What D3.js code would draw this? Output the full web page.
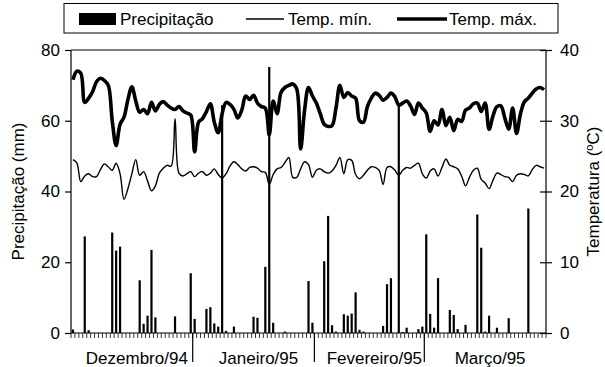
<!DOCTYPE html>
<html>
<head>
<meta charset="utf-8">
<script src="https://cdn.jsdelivr.net/npm/d3@7/dist/d3.min.js"></script>
<style>
  body { margin: 0; background: #fff; }
  text { font-family: 'Liberation Sans', Arial, sans-serif; fill: #000; }
</style>
</head>
<body>
<svg id="chart" width="605" height="367"></svg>
<script>
// months shown on the x axis
const months = ['Dezembro/94', 'Janeiro/95', 'Fevereiro/95', 'Março/95'];
const monthDays = [31, 31, 28, 31];

// daily precipitation (mm), one array per month
const precipDez = [1.0, 0, 0, 27.3, 0.8, 0, 0, 0, 0, 0, 28.4, 23.3, 24.4, 0, 0, 0, 0, 14.9, 2.6, 4.9, 23.5, 4.4, 0, 0, 0, 0, 4.7, 0, 0, 0, 16.9];
const precipJan = [4.0, 0, 0, 6.8, 7.3, 2.7, 1.8, 64.4, 0.6, 0, 1.8, 0, 0, 0, 0, 4.6, 4.3, 0, 18.7, 75.2, 2.9, 0, 0, 0.4, 0, 0, 0, 0, 0, 14.7, 2.9];
const precipFev = [0, 0, 20.3, 33.1, 2.2, 0.4, 0, 5.3, 4.9, 5.5, 11.5, 0.9, 0.4, 0, 0, 0, 0, 2.0, 13.8, 15.5, 0, 64.4, 0.3, 1.5, 0, 0, 1.1, 1.8];
const precipMar = [27.9, 5.4, 1.5, 15.5, 0, 0, 6.5, 5.1, 1.1, 0, 2.3, 0, 0, 33.5, 24.1, 0.4, 4.9, 0, 1.5, 0, 0, 4.2, 0, 0, 0, 0, 35.2, 0, 0, 0, 0];

// daily max temperature (C)
const tMaxDez = [35.8, 37.0, 36.7, 32.6, 33.2, 34.1, 35.5, 36.0, 35.7, 35.0, 30.0, 26.5, 29.5, 30.5, 33.0, 34.8, 32.8, 31.2, 31.6, 31.0, 32.6, 31.4, 32.3, 32.7, 32.2, 31.8, 31.6, 32.0, 31.4, 31.1, 30.8];
const tMaxJan = [25.6, 29.8, 30.3, 31.3, 32.4, 29.8, 28.3, 31.0, 32.6, 32.3, 31.6, 30.4, 31.5, 33.5, 33.0, 33.6, 32.5, 32.0, 31.8, 28.0, 32.8, 31.0, 34.0, 34.7, 35.0, 35.2, 34.5, 26.0, 31.5, 34.7, 33.5];
const tMaxFev = [32.5, 31.0, 29.5, 29.2, 29.3, 31.8, 35.0, 33.3, 34.0, 33.5, 33.2, 30.0, 29.8, 32.0, 33.2, 33.9, 33.6, 32.9, 33.3, 33.9, 33.4, 32.2, 32.5, 32.8, 32.1, 30.9, 32.5, 31.8];
const tMaxMar = [31.1, 28.5, 30.0, 29.4, 31.6, 29.3, 30.5, 28.6, 30.2, 29.9, 31.5, 31.8, 32.4, 32.5, 31.3, 32.5, 28.8, 30.7, 32.0, 32.1, 30.4, 28.8, 31.8, 28.2, 31.0, 32.7, 33.2, 33.9, 34.5, 34.7, 34.4];

// daily min temperature (C)
const tMinDez = [24.5, 24.0, 21.4, 22.2, 22.5, 22.1, 22.1, 23.1, 23.9, 23.5, 23.0, 24.0, 22.5, 18.9, 20.4, 22.5, 24.5, 22.3, 22.8, 21.5, 20.1, 20.8, 22.6, 23.3, 23.7, 23.6, 30.3, 22.6, 22.2, 22.5, 22.8];
const tMinJan = [22.1, 22.6, 22.8, 22.3, 22.6, 23.2, 22.4, 21.9, 22.5, 23.6, 24.2, 23.8, 23.2, 22.9, 23.4, 23.5, 23.3, 22.8, 22.7, 21.0, 22.4, 23.2, 23.4, 24.1, 24.8, 22.0, 22.0, 23.2, 24.2, 23.8, 22.0];
const tMinFev = [23.0, 23.2, 22.8, 22.6, 22.9, 23.7, 24.8, 22.5, 24.5, 24.4, 22.4, 21.8, 22.3, 23.0, 23.5, 23.4, 23.0, 21.0, 23.4, 23.5, 23.0, 22.3, 23.0, 23.4, 23.3, 23.7, 24.0, 22.5];
const tMinMar = [21.9, 22.9, 23.2, 22.2, 23.4, 24.6, 23.7, 23.5, 23.2, 22.2, 20.8, 22.0, 23.0, 23.3, 21.7, 21.2, 20.4, 21.6, 22.6, 22.4, 22.1, 22.0, 21.4, 22.3, 22.5, 22.4, 22.2, 23.1, 23.7, 23.5, 23.3];

const precipTicks = [0, 20, 40, 60, 80];
const tempTicks = [0, 10, 20, 30, 40];

const precip = [].concat(precipDez, precipJan, precipFev, precipMar);
const tMax = [].concat(tMaxDez, tMaxJan, tMaxFev, tMaxMar);
const tMin = [].concat(tMinDez, tMinJan, tMinFev, tMinMar);
const days = d3.range(precip.length);

const svg = d3.select('#chart');
const pL = 71, pR = 546, pT = 50, pB = 333;

const x = d3.scaleBand().domain(days).range([pL, pR]).padding(0);
const yP = d3.scaleLinear().domain([0, 80]).range([pB, pT]);
const yT = d3.scaleLinear().domain([0, 40]).range([pB, pT]);
const cx = d => x(d) + x.bandwidth() / 2;

// frame top
svg.append('line').attr('x1', pL).attr('x2', pR).attr('y1', pT).attr('y2', pT)
  .attr('stroke', '#000').attr('stroke-width', 1);

// left axis
const axL = svg.append('g').attr('transform', `translate(${pL},0)`)
  .call(d3.axisLeft(yP).tickValues(precipTicks).tickSize(6).tickPadding(5).tickFormat(d3.format('d')));
axL.select('.domain').attr('d', `M0,${pT}V${pB}`);

// right axis (ticks cross the line)
const axR = svg.append('g').attr('transform', `translate(${pR},0)`)
  .call(d3.axisRight(yT).tickValues(tempTicks).tickSize(6).tickPadding(8).tickFormat(d3.format('d')));
axR.select('.domain').attr('d', `M0,${pT}V${pB}`);
axR.selectAll('.tick line').attr('x1', -6);

[axL, axR].forEach(a => {
  a.selectAll('text').style('font-size', '17px').attr('font-family', null);
  a.selectAll('line, path').attr('stroke', '#000').attr('stroke-width', 1.2);
});

// bottom axis: one small tick per day, long line between months
const xAxis = svg.append('g');
xAxis.append('line').attr('x1', pL).attr('x2', pR).attr('y1', pB).attr('y2', pB)
  .attr('stroke', '#000').attr('stroke-width', 1.2);
xAxis.selectAll('.day').data(d3.range(precip.length + 1)).join('line')
  .attr('class', 'day')
  .attr('x1', d => d < days.length ? x(d) : pR)
  .attr('x2', d => d < days.length ? x(d) : pR)
  .attr('y1', pB).attr('y2', pB + 5)
  .attr('stroke', '#000').attr('stroke-width', 0.8);

const starts = d3.cumsum([0].concat(monthDays)).slice(0, months.length);
xAxis.selectAll('.sep').data(starts.slice(1)).join('line')
  .attr('class', 'sep')
  .attr('x1', d => x(d)).attr('x2', d => x(d))
  .attr('y1', pB).attr('y2', 362)
  .attr('stroke', '#000').attr('stroke-width', 1.2);
xAxis.selectAll('.month').data(months).join('text')
  .attr('class', 'month')
  .attr('x', (m, i) => {
    const a = x(starts[i]);
    const b = i + 1 < months.length ? x(starts[i + 1]) : pR;
    return (a + b) / 2 + 5;
  })
  .attr('y', 364)
  .attr('text-anchor', 'middle')
  .style('font-size', '17px')
  .text(m => m);

// temperature lines
const lineT = d3.line().x((d, i) => cx(i)).y(d => yT(d)).curve(d3.curveCatmullRom.alpha(0.5));
svg.append('path').datum(tMin).attr('d', lineT)
  .attr('fill', 'none').attr('stroke', '#000').attr('stroke-width', 1.4);
svg.append('path').datum(tMax).attr('d', lineT)
  .attr('fill', 'none').attr('stroke', '#000').attr('stroke-width', 3.6)
  .attr('stroke-linejoin', 'round');

// precipitation bars
const barW = 2.2;
svg.selectAll('.bar').data(days.filter(d => precip[d] > 0)).join('rect')
  .attr('class', 'bar')
  .attr('x', d => cx(d) - barW / 2)
  .attr('width', barW)
  .attr('y', d => yP(precip[d]))
  .attr('height', d => pB - yP(precip[d]))
  .attr('fill', '#000');

// axis titles
svg.append('text')
  .attr('transform', `translate(24,${(pT + pB) / 2}) rotate(-90)`)
  .attr('text-anchor', 'middle')
  .style('font-size', '17px')
  .text('Precipitação (mm)');
const tt = svg.append('text')
  .attr('transform', `translate(599,${(pT + pB) / 2}) rotate(-90)`)
  .attr('text-anchor', 'middle')
  .style('font-size', '17px');
tt.append('tspan').text('Temperatura (');
tt.append('tspan').attr('dy', -6).style('font-size', '11px').text('o');
tt.append('tspan').attr('dy', 6).text('C)');

// legend
const lg = svg.append('g');
lg.append('rect').attr('x', 64).attr('y', 3.5).attr('width', 494).attr('height', 29.5)
  .attr('fill', '#fff').attr('stroke', '#000').attr('stroke-width', 1);
lg.append('rect').attr('x', 79).attr('y', 13).attr('width', 37).attr('height', 12).attr('fill', '#000');
lg.append('text').attr('x', 120).attr('y', 25).style('font-size', '17px').text('Precipitação');
lg.append('line').attr('x1', 246).attr('x2', 284).attr('y1', 19).attr('y2', 19)
  .attr('stroke', '#000').attr('stroke-width', 1.4);
lg.append('text').attr('x', 288).attr('y', 25).style('font-size', '17px').text('Temp. mín.');
lg.append('line').attr('x1', 397).attr('x2', 447).attr('y1', 19).attr('y2', 19)
  .attr('stroke', '#000').attr('stroke-width', 3.6);
lg.append('text').attr('x', 449).attr('y', 25).style('font-size', '17px').text('Temp. máx.');
</script>
</body>
</html>
